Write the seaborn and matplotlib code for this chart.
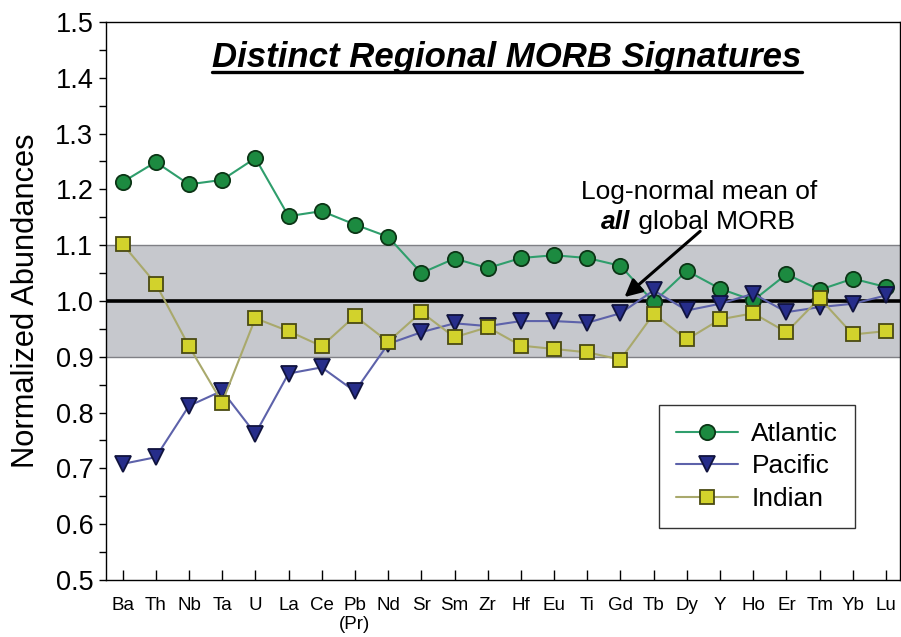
import numpy as np
import pandas as pd
import matplotlib
matplotlib.use("Agg")
import matplotlib.pyplot as plt
import seaborn as sns
from matplotlib.lines import Line2D

sns.set_theme(style="white")
plt.rcParams['font.family'] = ['Liberation Sans', 'DejaVu Sans']
plt.rcParams.update({"text.color": "black", "axes.labelcolor": "black",
                     "xtick.color": "black", "ytick.color": "black"})

elements = ["Ba", "Th", "Nb", "Ta", "U", "La", "Ce", "Pb\n(Pr)", "Nd", "Sr", "Sm", "Zr",
            "Hf", "Eu", "Ti", "Gd", "Tb", "Dy", "Y", "Ho", "Er", "Tm", "Yb", "Lu"]
atlantic = [1.213, 1.249, 1.209, 1.217, 1.256, 1.152, 1.161, 1.137, 1.115, 1.050, 1.076, 1.059,
            1.077, 1.082, 1.077, 1.063, 0.998, 1.054, 1.022, 1.001, 1.048, 1.020, 1.040, 1.025]
pacific = [0.708, 0.720, 0.812, 0.839, 0.762, 0.870, 0.881, 0.838, 0.923, 0.944, 0.960, 0.955,
           0.964, 0.964, 0.961, 0.978, 1.019, 0.983, 0.995, 1.013, 0.980, 0.989, 0.995, 1.010]
indian = [1.102, 1.031, 0.919, 0.818, 0.969, 0.946, 0.919, 0.973, 0.927, 0.980, 0.935, 0.953,
          0.920, 0.914, 0.908, 0.895, 0.977, 0.931, 0.967, 0.978, 0.944, 1.005, 0.940, 0.946]
series_names = ["Atlantic", "Pacific", "Indian"]
band_low, band_high, mean_level = 0.9, 1.1, 1.0
yticks = [0.5, 0.6, 0.7, 0.8, 0.9, 1.0, 1.1, 1.2, 1.3, 1.4, 1.5]

pos = np.arange(len(elements))
df = pd.DataFrame({"pos": np.tile(pos, 3),
                   "value": atlantic + pacific + indian,
                   "region": np.repeat(series_names, len(elements))})

styles = {
    "Atlantic": dict(marker="o", markersize=11, color="#2f9e6c", markerfacecolor="#1c8a40",
                     markeredgecolor="#0c3516"),
    "Pacific": dict(marker="v", markersize=12, color="#5d62aa", markerfacecolor="#262d8a",
                    markeredgecolor="#10133e"),
    "Indian": dict(marker="s", markersize=10, color="#a9a96c", markerfacecolor="#d2d22c",
                   markeredgecolor="#4a4a12"),
}

fig = plt.figure(figsize=(9.01, 6.37), dpi=100)
ax = fig.add_axes([0.1176, 0.0895, 0.8813, 0.876])

ax.axhspan(band_low, band_high, facecolor="#c6c8cd", edgecolor="none", zorder=0)
ax.axhline(band_low, color="#7f8085", lw=1.0, zorder=1)
ax.axhline(band_high, color="#7f8085", lw=1.0, zorder=1)
ax.axhline(mean_level, color="black", lw=2.6, zorder=2)

order = ["Atlantic", "Pacific", "Indian"]
for z, name in enumerate(order):
    sub = df[df.region == name]
    sns.lineplot(data=sub, x="pos", y="value", ax=ax, lw=1.5, zorder=3 + z,
                 markeredgewidth=1.3, legend=False, **styles[name])

ax.set_xlim(-0.5, 23.42)
ax.set_ylim(0.5, 1.5)
ax.set_xticks(pos)
ax.set_xticklabels(elements, fontsize=13.5)
ax.set_yticks(yticks)
ax.set_yticklabels([f"{v:.1f}" for v in yticks], fontsize=19.5)
ax.set_yticks(np.arange(0.55, 1.5, 0.1), minor=True)
ax.tick_params(axis="y", which="both", direction="out", length=5, width=1, left=True, pad=4)
ax.tick_params(axis="x", which="major", direction="in", length=7, width=1, bottom=True, pad=12)
ax.set_xlabel("")
ax.set_ylabel("Normalized Abundances", fontsize=22.2, labelpad=10)
for sp in ax.spines.values():
    sp.set_color("black")
    sp.set_linewidth(1.0)
    sp.set_visible(True)

handles = [Line2D([], [], lw=1.5, markeredgewidth=1.3, **styles[n]) for n in series_names]
leg = ax.legend(handles, series_names, loc="upper left", bbox_to_anchor=(0.6965, 0.314),
                fontsize=19, frameon=True, fancybox=False, edgecolor="black",
                handlelength=2.35, handletextpad=0.5, labelspacing=0.32, borderpad=0.65,
                borderaxespad=0)
leg.get_frame().set_linewidth(1.0)

# title with underline
title = fig.text(0.5627, 1 - 57 / 637, "Distinct Regional MORB Signatures", fontsize=25,
                 fontweight="bold", fontstyle="italic", ha="center", va="center")

# annotation
ax.text(17.36, 1.195, "Log-normal mean of", fontsize=19, ha="center", va="center", zorder=10)
ax.annotate("", xy=(15.12, 1.007), xytext=(17.4, 1.125),
            arrowprops=dict(arrowstyle="-|>", color="black", lw=2.2, mutation_scale=26,
                            shrinkA=0, shrinkB=0), zorder=10)

fig.canvas.draw()
r = fig.canvas.get_renderer()
bb = title.get_window_extent(r)
inv = fig.transFigure.inverted()
(x0, y0), (x1, y1) = inv.transform([(bb.x0, bb.y0), (bb.x1, bb.y1)])
fig.add_artist(Line2D([x0, x1], [y0 + 0.002, y0 + 0.002], color="black", lw=2.4,
                      transform=fig.transFigure))

t_all = ax.text(0, 0, "all", fontsize=19, fontweight="bold", fontstyle="italic",
                ha="left", va="center", zorder=10)
t_rest = ax.text(0, 0, " global MORB", fontsize=19, ha="left", va="center", zorder=10)
w1 = t_all.get_window_extent(r).width
w2 = t_rest.get_window_extent(r).width
cx, cy = ax.transData.transform((17.33, 1.1415))
start = cx - (w1 + w2) / 2
tinv = ax.transData.inverted()
t_all.set_position(tinv.transform((start, cy)))
t_rest.set_position(tinv.transform((start + w1, cy)))

fig.savefig("out.png", dpi=100)
